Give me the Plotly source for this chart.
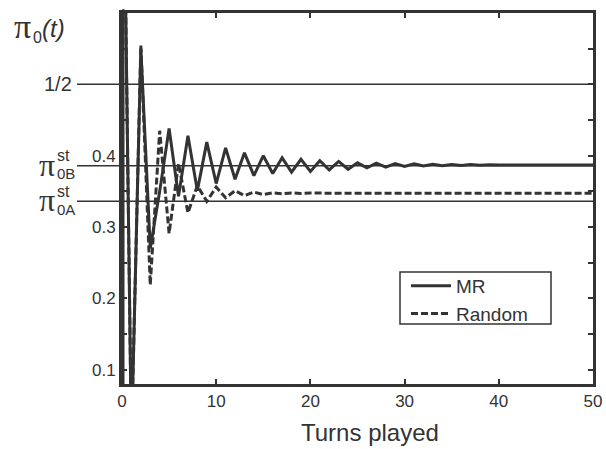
import plotly.graph_objects as go

# ---- data ----
turns = list(range(0, 51))
mr_values = [1.0, 0.0, 0.55, 0.27, 0.35, 0.438, 0.343, 0.428, 0.351, 0.419,
             0.361, 0.411, 0.367, 0.404, 0.372, 0.400, 0.375, 0.397, 0.377, 0.395,
             0.378, 0.393, 0.380, 0.392, 0.381, 0.390, 0.383, 0.3895, 0.384, 0.389,
             0.385, 0.3885, 0.3855, 0.388, 0.386, 0.3878, 0.3864, 0.3876, 0.3866, 0.3874,
             0.3868, 0.3872, 0.3869, 0.3871, 0.387, 0.387, 0.387, 0.387, 0.387, 0.387,
             0.387]
random_values = [1.0, 0.0, 0.555, 0.219, 0.435, 0.291, 0.389, 0.32, 0.358, 0.336,
                 0.356, 0.341, 0.351, 0.344, 0.349, 0.3455, 0.348, 0.3465, 0.3478, 0.347,
                 0.3476, 0.3472, 0.3475, 0.3475, 0.3475, 0.3475, 0.3475, 0.3475, 0.3475, 0.3475,
                 0.3475, 0.3475, 0.3475, 0.3475, 0.3475, 0.3475, 0.3475, 0.3475, 0.3475, 0.3475,
                 0.3475, 0.3475, 0.3475, 0.3475, 0.3475, 0.3475, 0.3475, 0.3475, 0.3475, 0.3475,
                 0.3475]
series_names = ["MR", "Random"]
half_value = 0.5
pi0B_st = 0.386
pi0A_st = 0.336
y_tickvals = [0.1, 0.15, 0.2, 0.25, 0.3, 0.35, 0.4, 0.45, 0.5, 0.55]
y_ticktext = ["0.1", "", "0.2", "", "0.3", "", "0.4", "", "", ""]
x_tickvals = [0, 10, 20, 30, 40, 50]

INK = "#333333"
SANS = "Arial, Liberation Sans, sans-serif"
SERIF = "Liberation Serif, Times New Roman, serif"

W, H = 606, 449
L, R, T, B = 122, 13, 13, 65
PW, PH = W - L - R, H - T - B


def px_x(p):
    return (p - L) / PW


def px_y(p):
    return (H - B - p) / PH


fig = go.Figure()
fig.add_trace(go.Scatter(x=turns, y=mr_values, mode="lines", name=series_names[0],
                         line=dict(color=INK, width=3)))
fig.add_trace(go.Scatter(x=turns, y=random_values, mode="lines", name=series_names[1],
                         line=dict(color=INK, width=3, dash="7px,3px")))

# reference lines extending into the left margin
for val in (half_value, pi0B_st, pi0A_st):
    fig.add_shape(type="line", xref="paper", yref="y", x0=px_x(77), x1=1,
                  y0=val, y1=val, line=dict(color=INK, width=1.5), layer="below")

# thick left edge
fig.add_shape(type="line", xref="x", yref="paper", x0=0, x1=0, y0=0, y1=1.01,
              line=dict(color=INK, width=5))

# legend frame
fig.add_shape(type="rect", xref="paper", yref="paper",
              x0=px_x(400), x1=px_x(551), y0=px_y(324), y1=px_y(272),
              line=dict(color=INK, width=1.5), fillcolor="white", layer="above")

ann = []
# title pi_0(t)
ann.append(dict(text="π", x=px_x(12), y=px_y(27), xanchor="left", yanchor="middle",
                font=dict(family=SERIF, size=34, color=INK)))
ann.append(dict(text="0", x=px_x(31), y=px_y(38), xanchor="left", yanchor="middle",
                font=dict(family=SANS, size=16, color=INK)))
ann.append(dict(text="<i>(t)</i>", x=px_x(40), y=px_y(28), xanchor="left", yanchor="middle",
                font=dict(family=SANS, size=24, color=INK)))
# 1/2 label
ann.append(dict(text="1/2", x=px_x(74), y=half_value, yref="y", xanchor="right", yanchor="middle",
                font=dict(family=SANS, size=20, color=INK)))
# pi labels
for val, sub in ((pi0B_st, "0B"), (pi0A_st, "0A")):
    ann.append(dict(text="π", x=px_x(57), y=val, yref="y", xanchor="right", yanchor="middle",
                    yshift=1, font=dict(family=SERIF, size=32, color=INK)))
    ann.append(dict(text="st", x=px_x(55), y=val, yref="y", xanchor="left", yanchor="middle",
                    yshift=10, font=dict(family=SANS, size=16, color=INK)))
    ann.append(dict(text=sub, x=px_x(55), y=val, yref="y", xanchor="left", yanchor="middle",
                    yshift=-8, font=dict(family=SANS, size=15, color=INK)))
# x title
ann.append(dict(text="Turns played", x=px_x(370), y=px_y(432), xanchor="center", yanchor="middle",
                font=dict(family=SANS, size=24, color=INK)))
for a in ann:
    a.setdefault("xref", "paper")
    a.setdefault("yref", "paper")
    a["showarrow"] = False
fig.update_layout(annotations=ann)

fig.update_layout(
    width=W, height=H,
    margin=dict(l=L, r=R, t=T, b=B, autoexpand=False),
    paper_bgcolor="white", plot_bgcolor="white",
    font=dict(family=SANS, size=17, color=INK),
    showlegend=True,
    legend=dict(x=px_x(406), y=px_y(267), xanchor="left", yanchor="top",
                borderwidth=0, bgcolor="rgba(0,0,0,0)",
                font=dict(family=SANS, size=19, color=INK),
                itemwidth=40, tracegroupgap=0),
)
fig.update_xaxes(range=[0, 50], tickvals=x_tickvals, ticks="inside", ticklen=5, tickwidth=2,
                 tickcolor=INK, showline=True, linecolor=INK, linewidth=3, mirror="ticks",
                 showgrid=False, zeroline=False, automargin=False,
                 tickfont=dict(size=17, color=INK))
fig.update_yaxes(range=[0.08, 0.6], tickvals=y_tickvals, ticktext=y_ticktext, ticks="inside",
                 ticklen=5, tickwidth=2, tickcolor=INK, showline=True, linecolor=INK,
                 linewidth=3, mirror="ticks", showgrid=False, zeroline=False, automargin=False,
                 tickfont=dict(size=17, color=INK))

fig.write_html("out.html", config={"displayModeBar": False, "responsive": False})

# remove default page margin so the figure sits at the window origin
with open("out.html", "r", encoding="utf-8") as f:
    html = f.read()
html = html.replace("<head>", "<head><style>html,body{margin:0;padding:0;overflow:hidden;}</style>", 1)
with open("out.html", "w", encoding="utf-8") as f:
    f.write(html)
